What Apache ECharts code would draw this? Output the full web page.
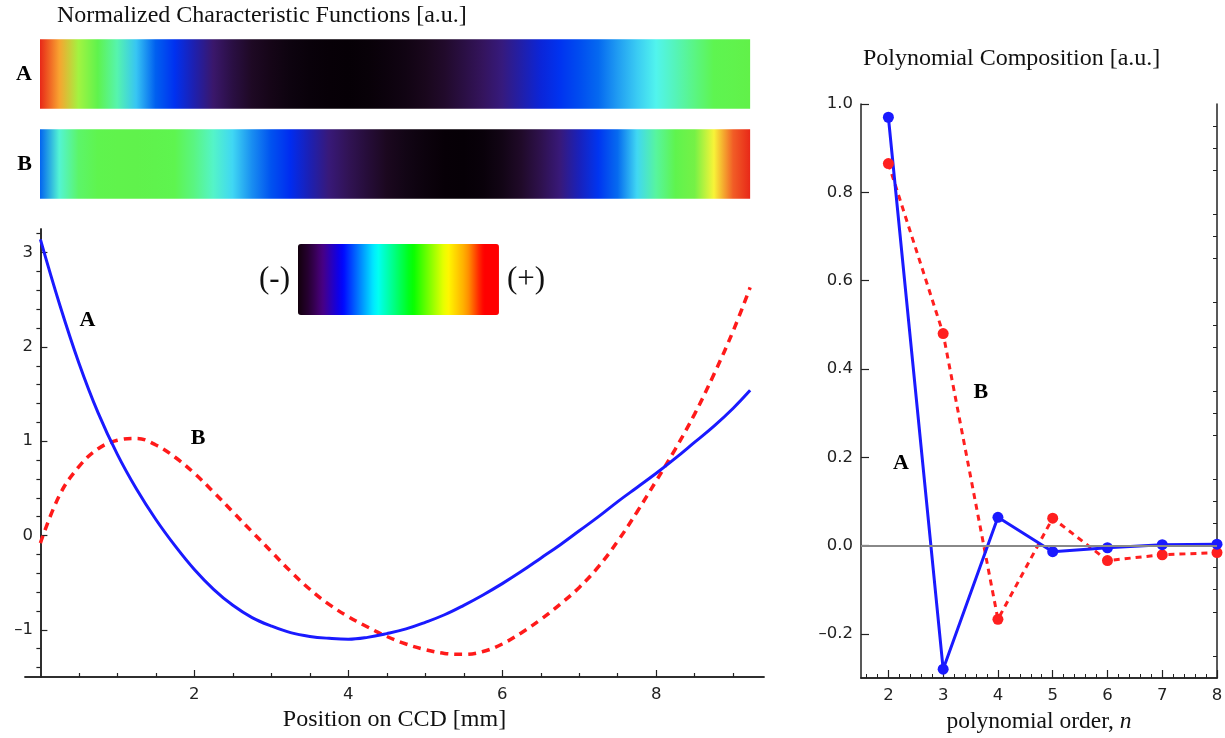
<!DOCTYPE html>
<html><head><meta charset="utf-8">
<script src="https://cdn.jsdelivr.net/npm/echarts@6/dist/echarts.min.js"></script>
<style>html,body{margin:0;padding:0;background:#fff}#c{width:1225px;height:738px}</style>
</head><body><div id="c"></div>
<script>
// ---------- data ----------
const X_POS = [0, 0.25, 0.5, 0.75, 1, 1.25, 1.5, 1.75, 2, 2.25, 2.5, 2.75, 3, 3.25, 3.5, 3.75, 4, 4.25, 4.5, 4.75, 5, 5.25, 5.5, 5.75, 6, 6.25, 6.5, 6.75, 7, 7.25, 7.5, 7.75, 8, 8.25, 8.5, 8.75, 9, 9.22];
const CURVE_A = [3.14, 2.45, 1.83, 1.30, 0.86, 0.49, 0.17, -0.11, -0.36, -0.57, -0.74, -0.87, -0.96, -1.03, -1.07, -1.09, -1.10, -1.08, -1.04, -0.99, -0.92, -0.84, -0.74, -0.63, -0.51, -0.38, -0.24, -0.10, 0.05, 0.20, 0.36, 0.51, 0.66, 0.82, 0.99, 1.16, 1.35, 1.54];
const CURVE_B = [-0.08, 0.43, 0.73, 0.92, 1.01, 1.03, 0.96, 0.83, 0.66, 0.46, 0.25, 0.04, -0.17, -0.38, -0.57, -0.73, -0.86, -0.97, -1.07, -1.15, -1.21, -1.25, -1.26, -1.23, -1.15, -1.03, -0.89, -0.73, -0.55, -0.33, -0.06, 0.25, 0.58, 0.92, 1.29, 1.71, 2.17, 2.63];
const STRIP_NAMES = ['A', 'B'];
const N_ORDER = [2, 3, 4, 5, 6, 7, 8];
const COMP_A = [0.97, -0.28, 0.064, -0.014, -0.005, 0.002, 0.003];
const COMP_B = [0.865, 0.48, -0.167, 0.062, -0.034, -0.021, -0.016];
const LEFT_X_LABELS = [2, 4, 6, 8];
const LEFT_Y_LABELS = [-1, 0, 1, 2, 3];
const RIGHT_X_LABELS = [2, 3, 4, 5, 6, 7, 8];
const RIGHT_Y_LABELS = [-0.2, 0, 0.2, 0.4, 0.6, 0.8, 1.0];
const BAR_TEXT = ['(+)', '(-)'];

// ---------- helpers ----------
function minorTicks(from, to, step, majors) {
  const out = [];
  for (let k = Math.round(from / step); k <= Math.round(to / step); k++) {
    const v = +(k * step).toFixed(4);
    if (!majors.some(m => Math.abs(m - v) < 1e-6)) out.push(v);
  }
  return out;
}
function hex2rgb(h) { return [parseInt(h.slice(1, 3), 16), parseInt(h.slice(3, 5), 16), parseInt(h.slice(5, 7), 16)]; }
function makeMap(stops) {
  const s = stops.map(([t, c]) => [t, hex2rgb(c)]);
  return function (t) {
    t = Math.max(0, Math.min(1, t));
    for (let i = 1; i < s.length; i++) {
      if (t <= s[i][0]) {
        const [t0, c0] = s[i - 1], [t1, c1] = s[i];
        const f = t1 > t0 ? (t - t0) / (t1 - t0) : 0;
        return 'rgb(' + c0.map((v, j) => Math.round(v + (c1[j] - v) * f)).join(',') + ')';
      }
    }
    return 'rgb(' + s[s.length - 1][1].join(',') + ')';
  };
}
const barMap = makeMap([[0, '#12000c'], [0.06, '#2a0038'], [0.12, '#4b0080'], [0.22, '#0000ff'], [0.39, '#00ffff'], [0.57, '#00ff00'], [0.74, '#ffff00'], [0.84, '#ffa000'], [0.92, '#ff0000'], [1, '#ff0000']]);
const stripMap = makeMap([[0, '#060006'], [0.05, '#1c0820'], [0.13, '#3c1870'], [0.22, '#0028f0'], [0.30, '#0060f0'], [0.41, '#50f4f4'], [0.53, '#5ef550'], [0.64, '#62f048'], [0.76, '#f8f838'], [0.84, '#f8a030'], [0.91, '#ec3020'], [1, '#e82818']]);
const barColors = [];
for (let i = 0; i <= 40; i++) barColors.push(barMap(i / 40));

const SERIF = 'Liberation Serif';
const SANS = 'DejaVu Sans';
const INK = '#222';
const TICK_FS = 16.5;
const fmtMinus = d => v => (v < -1e-9 ? '\u2013' : '') + Math.abs(v).toFixed(d);

function majorAxis(extra) {
  return Object.assign({
    type: 'value',
    axisLine: { show: true, lineStyle: { color: INK, width: 1.5 } },
    splitLine: { show: false },
  }, extra);
}
const labelMark = (txt, coord) => ({
  silent: true, symbol: 'circle', symbolSize: 1, itemStyle: { color: 'rgba(0,0,0,0)' },
  label: { show: true, position: 'inside', formatter: txt, fontFamily: SERIF, fontWeight: 'bold', fontSize: 22, color: '#000' },
  data: [{ coord: coord }]
});

const chart = echarts.init(document.getElementById('c'), null, { renderer: 'canvas' });
chart.setOption({
  animation: false,
  backgroundColor: '#fff',
  title: [
    { text: 'Normalized Characteristic Functions [a.u.]', left: 57, top: 4, padding: 0,
      textStyle: { fontFamily: SERIF, fontWeight: 'normal', fontSize: 24, color: '#111' } },
    { text: 'Polynomial Composition [a.u.]', left: 863, top: 47, padding: 0,
      textStyle: { fontFamily: SERIF, fontWeight: 'normal', fontSize: 24, color: '#111' } }
  ],
  visualMap: {
    type: 'continuous', min: 0, max: 1, orient: 'horizontal',
    left: 244, top: 229, itemWidth: 71, itemHeight: 201,
    text: BAR_TEXT, textGap: 8, calculable: false, hoverLink: false,
    seriesIndex: [], inRange: { color: barColors },
    textStyle: { fontFamily: SERIF, fontSize: 31, color: '#111' }
  },
  grid: [
    { left: 40, top: 29, width: 724, height: 180, outerBoundsMode: 'none' },
    { left: 25, top: 229, width: 739, height: 448, outerBoundsMode: 'none' },
    { left: 861, top: 104, width: 356, height: 574, outerBoundsMode: 'none' }
  ],
  xAxis: [
    { type: 'value', gridIndex: 0, min: 0, max: 9.4, show: false },
    majorAxis({ gridIndex: 1, min: -0.2, max: 9.4, position: 'bottom',
      axisLine: { onZero: false, lineStyle: { color: INK, width: 1.5 } },
      axisTick: { inside: true, length: 7, customValues: LEFT_X_LABELS, lineStyle: { color: INK, width: 1.2 } },
      axisLabel: { customValues: LEFT_X_LABELS, formatter: fmtMinus(0), fontFamily: SANS, fontSize: TICK_FS, color: INK, margin: 9 },
      name: 'Position on CCD [mm]', nameLocation: 'middle', nameGap: 31,
      nameTextStyle: { fontFamily: SERIF, fontSize: 24, color: '#111' } }),
    majorAxis({ gridIndex: 1, min: -0.2, max: 9.4, position: 'bottom',
      axisLine: { onZero: false, lineStyle: { color: INK, width: 1.5 } },
      axisTick: { inside: true, length: 4, customValues: minorTicks(0.5, 9.0, 0.5, LEFT_X_LABELS), lineStyle: { color: INK, width: 1.2 } },
      axisLabel: { show: false } }),
    majorAxis({ gridIndex: 2, min: 1.5, max: 8, position: 'bottom',
      axisLine: { onZero: false, lineStyle: { color: INK, width: 1.5 } },
      axisTick: { inside: true, length: 8, customValues: RIGHT_X_LABELS, lineStyle: { color: INK, width: 1.2 } },
      axisLabel: { customValues: RIGHT_X_LABELS, formatter: fmtMinus(0), fontFamily: SANS, fontSize: TICK_FS, color: INK, margin: 9 },
      name: '{r|polynomial order, }{i|n}', nameLocation: 'middle', nameGap: 32,
      nameTextStyle: { rich: { r: { fontFamily: SERIF, fontSize: 23.5, color: '#111' }, i: { fontFamily: SERIF, fontSize: 23.5, fontStyle: 'italic', color: '#111' } } } }),
    majorAxis({ gridIndex: 2, min: 1.5, max: 8, position: 'bottom',
      axisLine: { onZero: false, lineStyle: { color: INK, width: 1.5 } },
      axisTick: { inside: true, length: 4, customValues: minorTicks(1.6, 7.8, 0.2, RIGHT_X_LABELS), lineStyle: { color: INK, width: 1 } },
      axisLabel: { show: false } })
  ],
  yAxis: [
    { type: 'category', gridIndex: 0, data: STRIP_NAMES, inverse: true,
      axisLine: { show: false }, axisTick: { show: false }, splitLine: { show: false },
      axisLabel: { fontFamily: SERIF, fontWeight: 'bold', fontSize: 22, color: '#000', margin: 8 } },
    majorAxis({ gridIndex: 1, min: -1.5, max: 3.25,
      axisLine: { onZero: true, lineStyle: { color: INK, width: 1.5 } },
      axisTick: { inside: true, length: 7, customValues: LEFT_Y_LABELS, lineStyle: { color: INK, width: 1.2 } },
      axisLabel: { customValues: LEFT_Y_LABELS, formatter: fmtMinus(0), fontFamily: SANS, fontSize: TICK_FS, color: INK, margin: -8 } }),
    majorAxis({ gridIndex: 1, min: -1.5, max: 3.25,
      axisLine: { onZero: true, lineStyle: { color: INK, width: 1.5 } },
      axisTick: { inside: true, length: 4, customValues: minorTicks(-1.4, 3.2, 0.2, LEFT_Y_LABELS), lineStyle: { color: INK, width: 1.2 } },
      axisLabel: { show: false } }),
    majorAxis({ gridIndex: 2, min: -0.3, max: 1.0,
      axisLine: { onZero: false, lineStyle: { color: INK, width: 1.5 } },
      axisTick: { inside: true, length: 8, customValues: RIGHT_Y_LABELS, lineStyle: { color: INK, width: 1.2 } },
      axisLabel: { customValues: RIGHT_Y_LABELS, formatter: fmtMinus(1), fontFamily: SANS, fontSize: TICK_FS, color: INK, margin: 8 } }),
    majorAxis({ gridIndex: 2, min: -0.3, max: 1.0,
      axisLine: { onZero: false, lineStyle: { color: INK, width: 1.5 } },
      axisTick: { inside: true, length: 4, customValues: minorTicks(-0.25, 0.95, 0.05, RIGHT_Y_LABELS), lineStyle: { color: INK, width: 1 } },
      axisLabel: { show: false } })
  ],
  series: [
    { // heat strips built from the two characteristic curves
      type: 'custom', xAxisIndex: 0, yAxisIndex: 0, silent: true,
      data: STRIP_NAMES.map((n, i) => [X_POS[0], i]),
      encode: { x: 0, y: 1 },
      renderItem(params, api) {
        const idx = params.dataIndex;
        const vals = idx === 0 ? CURVE_A : CURVE_B;
        const x0 = X_POS[0], x1 = X_POS[X_POS.length - 1];
        const p0 = api.coord([x0, idx]), p1 = api.coord([x1, idx]);
        const h = api.size([0, 1])[1] * 0.77;
        const mn = Math.min(...vals), mx = Math.max(...vals);
        const stops = X_POS.map((x, i) => ({ offset: (x - x0) / (x1 - x0), color: stripMap((vals[i] - mn) / (mx - mn)) }));
        return { type: 'rect', shape: { x: p0[0], y: p0[1] - h / 2, width: p1[0] - p0[0], height: h },
          style: { fill: new echarts.graphic.LinearGradient(0, 0, 1, 0, stops) } };
      }
    },
    { name: 'B', type: 'line', xAxisIndex: 1, yAxisIndex: 1, smooth: 0.4, showSymbol: false, symbol: 'none',
      data: X_POS.map((x, i) => [x, CURVE_B[i]]),
      lineStyle: { color: '#ff1a1a', width: 3.5, type: [8, 6] },
      markPoint: labelMark('B', [2.05, 1.03]) },
    { name: 'A', type: 'line', xAxisIndex: 1, yAxisIndex: 1, smooth: 0.4, showSymbol: false, symbol: 'none',
      data: X_POS.map((x, i) => [x, CURVE_A[i]]),
      lineStyle: { color: '#1a1aff', width: 3 },
      markPoint: labelMark('A', [0.61, 2.28]) },
    { name: 'compB', type: 'line', xAxisIndex: 3, yAxisIndex: 3, symbol: 'circle', symbolSize: 11, showSymbol: true,
      data: N_ORDER.map((n, i) => [n, COMP_B[i]]),
      itemStyle: { color: '#ff1f1f' },
      lineStyle: { color: '#ff1f1f', width: 3, type: [6, 5] },
      markLine: { silent: true, symbol: 'none', label: { show: false },
        lineStyle: { color: '#888', width: 2, type: 'solid' }, data: [{ yAxis: 0 }] },
      markPoint: labelMark('B', [3.69, 0.348]) },
    { name: 'compA', type: 'line', xAxisIndex: 3, yAxisIndex: 3, symbol: 'circle', symbolSize: 11, showSymbol: true,
      data: N_ORDER.map((n, i) => [n, COMP_A[i]]),
      itemStyle: { color: '#1a1aff' },
      lineStyle: { color: '#1a1aff', width: 3 },
      markPoint: labelMark('A', [2.23, 0.187]) }
  ]
});
</script></body></html>
